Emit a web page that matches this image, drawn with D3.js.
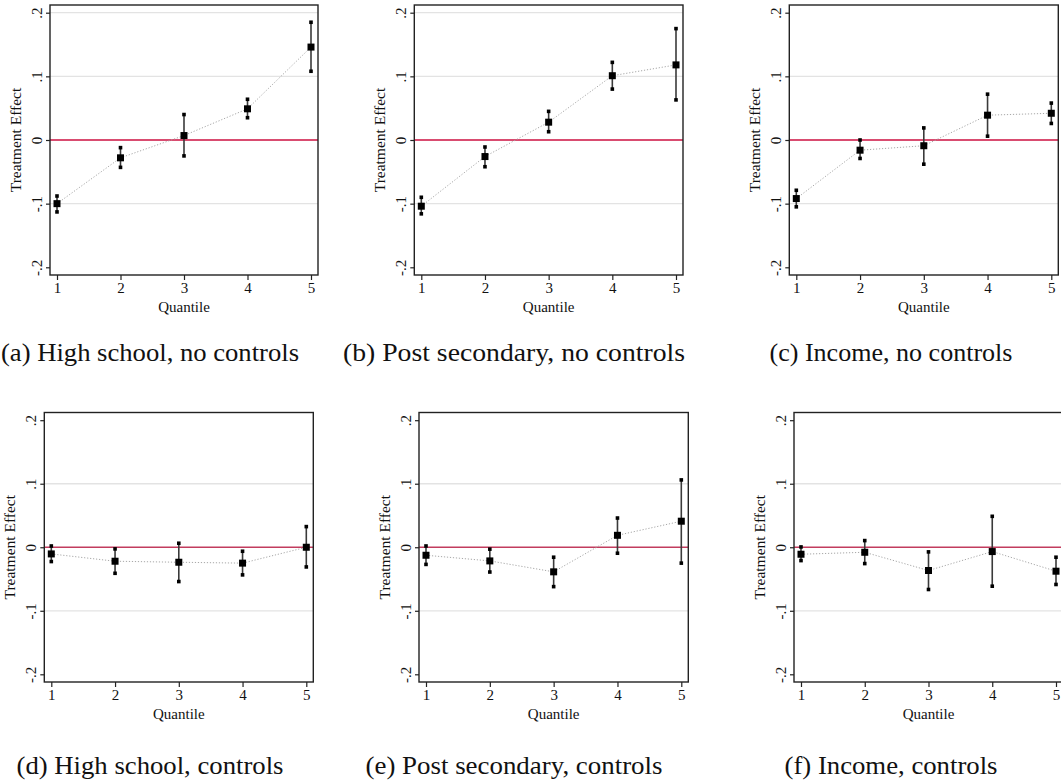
<!DOCTYPE html>
<html><head><meta charset="utf-8">
<script src="https://cdn.jsdelivr.net/npm/d3@7"></script>
<style>body{margin:0;background:#fff} svg{display:block}</style>
</head><body><svg id="c" width="1061" height="782"></svg>
<script>
// ---------- data ----------
const quantiles = [1, 2, 3, 4, 5];
const xTickLabels = ["1", "2", "3", "4", "5"];
const yTicks = [-0.2, -0.1, 0, 0.1, 0.2];
const yTickLabels = ["-.2", "-.1", "0", ".1", ".2"];
const yTitle = "Treatment Effect";
const xTitle = "Quantile";
const captions = [
  "(a) High school, no controls", "(b) Post secondary, no controls", "(c) Income, no controls",
  "(d) High school, controls", "(e) Post secondary, controls", "(f) Income, controls"
];

// (a) High school, no controls
const hsNoCtrlEst = [-0.100, -0.028, 0.007, 0.049, 0.146];
const hsNoCtrlLo  = [-0.113, -0.043, -0.025, 0.035, 0.108];
const hsNoCtrlHi  = [-0.088, -0.012, 0.040, 0.064, 0.185];
// (b) Post secondary, no controls
const psNoCtrlEst = [-0.104, -0.026, 0.028, 0.101, 0.118];
const psNoCtrlLo  = [-0.116, -0.042, 0.013, 0.080, 0.063];
const psNoCtrlHi  = [-0.090, -0.011, 0.045, 0.122, 0.175];
// (c) Income, no controls
const incNoCtrlEst = [-0.092, -0.016, -0.009, 0.039, 0.042];
const incNoCtrlLo  = [-0.105, -0.029, -0.038, 0.006, 0.026];
const incNoCtrlHi  = [-0.079, 0.000, 0.019, 0.072, 0.058];
// (d) High school, controls
const hsCtrlEst = [-0.0105, -0.022, -0.0236, -0.025, 0.000];
const hsCtrlLo  = [-0.0225, -0.041, -0.054, -0.0435, -0.031];
const hsCtrlHi  = [0.002, -0.0026, 0.0063, -0.0063, 0.0325];
// (e) Post secondary, controls
const psCtrlEst = [-0.0126, -0.0215, -0.0387, 0.0188, 0.041];
const psCtrlLo  = [-0.027, -0.039, -0.062, -0.0094, -0.025];
const psCtrlHi  = [0.002, -0.003, -0.0157, 0.046, 0.106];
// (f) Income, controls
const incCtrlEst = [-0.011, -0.0079, -0.0366, -0.0068, -0.0377];
const incCtrlLo  = [-0.021, -0.0257, -0.0665, -0.0613, -0.0586];
const incCtrlHi  = [0.0005, 0.0105, -0.0073, 0.0487, -0.0157];

const series = [
  [hsNoCtrlEst, hsNoCtrlLo, hsNoCtrlHi],
  [psNoCtrlEst, psNoCtrlLo, psNoCtrlHi],
  [incNoCtrlEst, incNoCtrlLo, incNoCtrlHi],
  [hsCtrlEst, hsCtrlLo, hsCtrlHi],
  [psCtrlEst, psCtrlLo, psCtrlHi],
  [incCtrlEst, incCtrlLo, incCtrlHi]
];

// ---------- layout ----------
const layout = [
  {L: 50,    R: 318,    T: 5,     B: 275, topGrid: true,  cap: {cx: 150, w: 298, y: 361}, red: "#cc1040"},
  {L: 414.3, R: 683,    T: 5,     B: 275, topGrid: true,  cap: {cx: 514, w: 342, y: 361}, red: "#cc1040"},
  {L: 789.3, R: 1058.3, T: 5,     B: 275, topGrid: false, cap: {cx: 891, w: 243, y: 361}, red: "#cc1040"},
  {L: 44.3,  R: 313.3,  T: 412.5, B: 682, topGrid: false, cap: {cx: 150, w: 267, y: 774}, red: "#c23c5e"},
  {L: 419,   R: 688.3,  T: 412.5, B: 682, topGrid: false, cap: {cx: 514, w: 297, y: 774}, red: "#c23c5e"},
  {L: 794,   R: 1063,   T: 412.5, B: 682, topGrid: false, cap: {cx: 891, w: 213, y: 774}, red: "#c23c5e"}
];

const svg = d3.select("#c");
const serif = "'Liberation Serif', 'Times New Roman', serif";

layout.forEach((p, i) => {
  const [est, lo, hi] = series[i];
  const g = svg.append("g");
  const x = d3.scaleLinear().domain([1, 5]).range([p.L + 7, p.R - 7]);
  const y = d3.scaleLinear().domain([-0.2, 0.2]).range([p.B - 7.7, p.T + 7.7]);

  // grid lines
  const grid = yTicks.filter(t => t !== 0 && t !== -0.2 && (t !== 0.2 || p.topGrid));
  g.selectAll("line.grid").data(grid).join("line")
    .attr("x1", p.L).attr("x2", p.R)
    .attr("y1", d => y(d)).attr("y2", d => y(d))
    .attr("stroke", "#e3e3e3").attr("stroke-width", 1.3);

  // zero line
  g.append("line").attr("x1", p.L).attr("x2", p.R)
    .attr("y1", y(0)).attr("y2", y(0))
    .attr("stroke", p.red).attr("stroke-width", 1.4);

  // connecting dotted line
  const pts = quantiles.map((q, k) => [q, est[k]]);
  g.append("path").datum(pts)
    .attr("d", d3.line().x(d => x(d[0])).y(d => y(d[1])))
    .attr("fill", "none").attr("stroke", "#a8a8a8")
    .attr("stroke-width", 1).attr("stroke-dasharray", "1.2,1.8");

  // error bars
  g.selectAll("line.ci").data(quantiles).join("line")
    .attr("x1", d => x(d)).attr("x2", d => x(d))
    .attr("y1", (d, k) => y(lo[k])).attr("y2", (d, k) => y(hi[k]))
    .attr("stroke", "#3a3a3a").attr("stroke-width", 1.6);
  const capS = 3.6;
  [lo, hi].forEach(arr => {
    g.selectAll(null).data(quantiles).join("rect")
      .attr("x", d => x(d) - capS / 2).attr("y", (d, k) => y(arr[k]) - capS / 2)
      .attr("width", capS).attr("height", capS).attr("fill", "#000");
  });
  const mS = 7;
  g.selectAll(null).data(quantiles).join("rect")
    .attr("x", d => x(d) - mS / 2).attr("y", (d, k) => y(est[k]) - mS / 2)
    .attr("width", mS).attr("height", mS).attr("fill", "#000");

  // frame
  g.append("rect").attr("x", p.L).attr("y", p.T)
    .attr("width", p.R - p.L).attr("height", p.B - p.T)
    .attr("fill", "none").attr("stroke", "#222").attr("stroke-width", 1.4);

  // y axis
  const ya = g.append("g").attr("transform", `translate(${p.L},0)`)
    .call(d3.axisLeft(y).tickValues(yTicks).tickFormat((d, k) => yTickLabels[k]).tickSize(4));
  ya.select(".domain").remove();
  ya.selectAll(".tick line").attr("stroke", "#222").attr("stroke-width", 1.2);
  ya.selectAll(".tick text")
    .attr("transform", "rotate(-90)")
    .attr("x", 0).attr("y", -8).attr("dy", 0)
    .attr("text-anchor", "middle")
    .attr("font-family", serif).attr("font-size", 15).attr("fill", "#111");

  // x axis
  const xa = g.append("g").attr("transform", `translate(0,${p.B})`)
    .call(d3.axisBottom(x).tickValues(quantiles).tickFormat((d, k) => xTickLabels[k]).tickSize(5).tickPadding(2));
  xa.select(".domain").remove();
  xa.selectAll(".tick line").attr("stroke", "#222").attr("stroke-width", 1.2);
  xa.selectAll(".tick text")
    .attr("font-family", serif).attr("font-size", 15).attr("fill", "#111");

  // axis titles
  g.append("text")
    .attr("transform", `translate(${p.L - 29},${y(0)}) rotate(-90)`)
    .attr("text-anchor", "middle")
    .attr("font-family", serif).attr("font-size", 15.5).attr("fill", "#111")
    .text(yTitle);
  g.append("text")
    .attr("x", (p.L + p.R) / 2).attr("y", p.B + 36.5)
    .attr("text-anchor", "middle")
    .attr("font-family", serif).attr("font-size", 15).attr("fill", "#111")
    .text(xTitle);

  // caption
  svg.append("text")
    .attr("x", p.cap.cx - p.cap.w / 2).attr("y", p.cap.y)
    .attr("textLength", p.cap.w).attr("lengthAdjust", "spacingAndGlyphs")
    .attr("font-family", serif).attr("font-size", 25).attr("fill", "#111")
    .text(captions[i]);
});
</script></body></html>
